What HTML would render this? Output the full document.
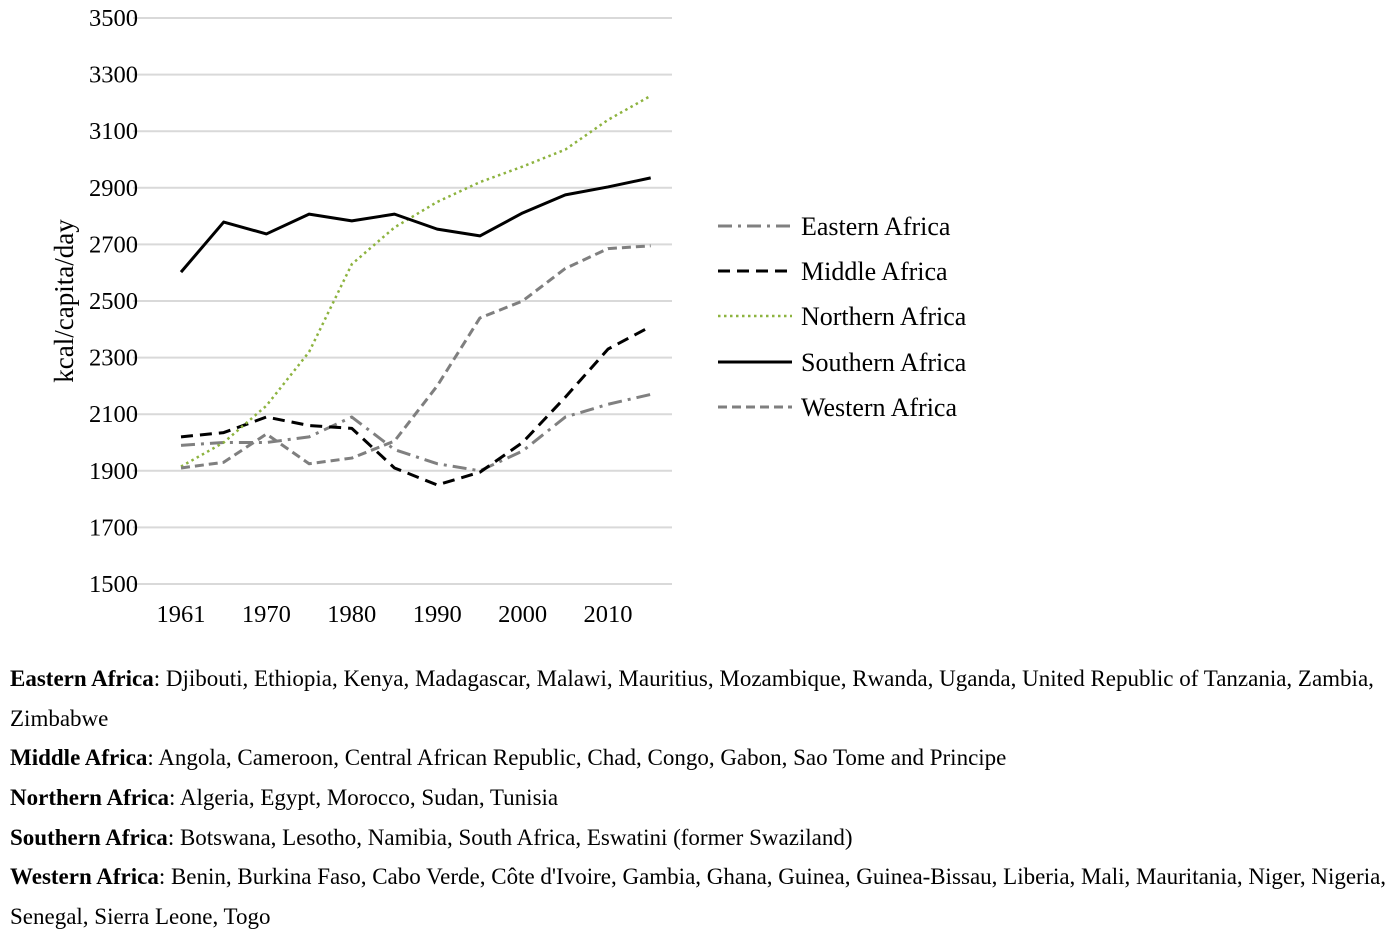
<!DOCTYPE html>
<html><head><meta charset="utf-8">
<style>
body{margin:0;background:#fff;width:1400px;height:939px;overflow:hidden;font-family:"Liberation Serif",serif;}
#chart{position:absolute;left:0;top:0;}
.note{position:absolute;left:10px;font-size:23px;color:#000;white-space:nowrap;}
</style></head><body>
<svg id="chart" width="1400" height="650" xmlns="http://www.w3.org/2000/svg"></svg>
<div class="note" style="top:666px"><b>Eastern Africa</b>: Djibouti, Ethiopia, Kenya, Madagascar, Malawi, Mauritius, Mozambique, Rwanda, Uganda, United Republic of Tanzania, Zambia,</div>
<div class="note" style="top:706px">Zimbabwe</div>
<div class="note" style="top:745px"><b>Middle Africa</b>: Angola, Cameroon, Central African Republic, Chad, Congo, Gabon, Sao Tome and Principe</div>
<div class="note" style="top:785px"><b>Northern Africa</b>: Algeria, Egypt, Morocco, Sudan, Tunisia</div>
<div class="note" style="top:825px"><b>Southern Africa</b>: Botswana, Lesotho, Namibia, South Africa, Eswatini (former Swaziland)</div>
<div class="note" style="top:864px"><b>Western Africa</b>: Benin, Burkina Faso, Cabo Verde, Côte d'Ivoire, Gambia, Ghana, Guinea, Guinea-Bissau, Liberia, Mali, Mauritania, Niger, Nigeria,</div>
<div class="note" style="top:904px">Senegal, Sierra Leone, Togo</div>
<script>
const years=[1961,1965,1970,1975,1980,1985,1990,1995,2000,2005,2010,2015];
const xTickLabels=["1961","1970","1980","1990","2000","2010"];
const yTicks=[1500,1700,1900,2100,2300,2500,2700,2900,3100,3300,3500];
const eastern=[1990,2000,2000,2020,2090,1975,1925,1900,1970,2090,2135,2170];
const middle=[2020,2035,2090,2060,2050,1910,1850,1895,2000,2160,2330,2410];
const northern=[1915,2000,2130,2320,2630,2760,2850,2920,2975,3035,3140,3225];
const southern=[2602,2779,2737,2807,2783,2807,2754,2730,2811,2875,2903,2935];
const western=[1910,1930,2030,1925,1945,2005,2200,2440,2500,2615,2685,2695];
const seriesNames=["Eastern Africa","Middle Africa","Northern Africa","Southern Africa","Western Africa"];

const NS="http://www.w3.org/2000/svg";
const svg=document.getElementById('chart');
const x0=181,dx=42.7,yB=584,yT=18,vMin=1500,vMax=3500;
const xs=i=>x0+i*dx;
const ys=v=>yB-(v-vMin)/(vMax-vMin)*(yB-yT);
function mk(tag,attrs,parent){const e=document.createElementNS(NS,tag);for(const k in attrs)e.setAttribute(k,attrs[k]);(parent||svg).appendChild(e);return e;}

yTicks.forEach(v=>{
  const g=mk('line',{x1:133,x2:672,y1:ys(v),y2:ys(v),stroke:'#d9d9d9','stroke-width':2});
  
  
  const t=mk('text',{x:138,y:ys(v)+8,'text-anchor':'end','font-size':24.5,'font-family':'Liberation Serif, serif',fill:'#000'});
  t.textContent=v;
  
  
});
xTickLabels.forEach((l,j)=>{
  const t=mk('text',{x:xs(j*2),y:622,'text-anchor':'middle','font-size':24.5,'font-family':'Liberation Serif, serif',fill:'#000'});
  t.textContent=l;
  
  
});
const yt=mk('text',{x:0,y:0,transform:'translate(73,301) rotate(-90)','text-anchor':'middle','font-size':27,'font-family':'Liberation Serif, serif',fill:'#000'});
yt.textContent='kcal/capita/day';



const styles=[
 {data:eastern,stroke:'#808080',w:3,dash:'14 6 3 6'},
 {data:middle,stroke:'#000',w:3,dash:'12 7'},
 {data:northern,stroke:'#8db33f',w:2.5,dash:'2.5 3.5'},
 {data:southern,stroke:'#000',w:3,dash:''},
 {data:western,stroke:'#7f7f7f',w:3,dash:'9 5'}
];
const legY=[226,271,316,362,407];
styles.forEach((s,k)=>{
  const pts=s.data.map((v,i)=>xs(i)+','+ys(v)).join(' ');
  const p=mk('polyline',{points:pts,fill:'none',stroke:s.stroke,'stroke-width':s.w,'stroke-dasharray':s.dash,'stroke-linejoin':'round'});
  
  
  const ll=mk('line',{x1:718,x2:792,y1:legY[k],y2:legY[k],stroke:s.stroke,'stroke-width':s.w,'stroke-dasharray':s.dash});
  
  
  const lt=mk('text',{x:801,y:legY[k]+9,'font-size':26,'font-family':'Liberation Serif, serif',fill:'#000'});
  lt.textContent=seriesNames[k];
  
  
});
</script>
</body></html>
